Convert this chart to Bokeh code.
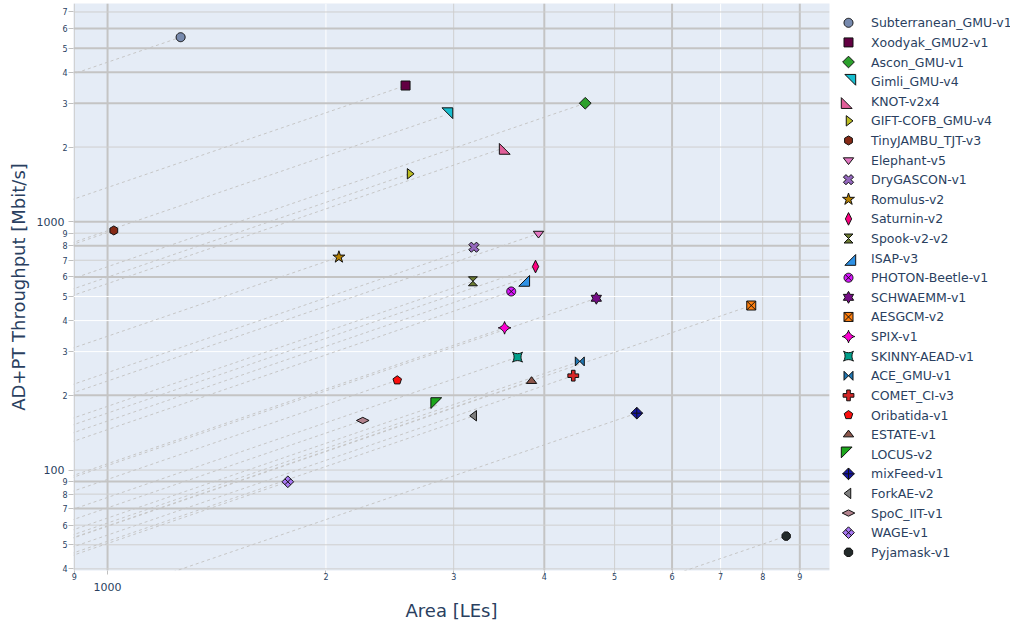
import math
from bokeh.plotting import figure
from bokeh.layouts import row
from bokeh.models import LogAxis, FixedTicker, CustomJSTickFormatter, Span, Range1d
from bokeh.core.properties import value
from bokeh.embed import file_html
from bokeh.resources import INLINE

# ---------------- data ----------------
names = ["Subterranean_GMU-v1", "Xoodyak_GMU2-v1", "Ascon_GMU-v1", "Gimli_GMU-v4", "KNOT-v2x4",
         "GIFT-COFB_GMU-v4", "TinyJAMBU_TJT-v3", "Elephant-v5", "DryGASCON-v1", "Romulus-v2",
         "Saturnin-v2", "Spook-v2-v2", "ISAP-v3", "PHOTON-Beetle-v1", "SCHWAEMM-v1", "AESGCM-v2",
         "SPIX-v1", "SKINNY-AEAD-v1", "ACE_GMU-v1", "COMET_CI-v3", "Oribatida-v1", "ESTATE-v1",
         "LOCUS-v2", "mixFeed-v1", "ForkAE-v2", "SpoC_IIT-v1", "WAGE-v1", "Pyjamask-v1"]
area = [1261, 2575, 4555, 2924, 3548, 2608, 1020, 3927, 3199, 2084,
        3890, 3189, 3731, 3601, 4718, 7715, 3526, 3674, 4477, 4385,
        2508, 3841, 2855, 5365, 3202, 2248, 1772, 8619]
throughput = [5540, 3539, 3003, 2692, 2000, 1561, 923, 897, 790, 721,
              660, 576, 588, 524, 492, 460, 374, 285, 274, 240,
              230, 228, 183, 169.5, 165.5, 158.4, 89.7, 54.2]
colors = ["#778AAE", "#620042", "#2CA02C", "#17BECF", "#E15F99", "#BCBD22", "#862A16", "#E377C2",
          "#9467BD", "#B68100", "#FC0080", "#6C7C32", "#2E91E5", "#DA16FF", "#750D86", "#FF7F0E",
          "#FB00D1", "#00A08B", "#1F77B4", "#D62728", "#FB0D0D", "#8C564B", "#1CA71C", "#1616A7",
          "#7F7F7F", "#B2828D", "#A777F1", "#222A2A"]
symbols = ["circle", "square", "diamond", "triangle-ne", "triangle-sw", "triangle-right", "hexagon",
           "triangle-down", "x", "star", "diamond-tall", "hourglass", "triangle-se", "circle-x",
           "hexagram", "square-x", "star-diamond", "star-square", "bowtie", "cross", "pentagon",
           "triangle-up", "triangle-nw", "diamond-cross", "triangle-left", "diamond-wide",
           "diamond-x", "octagon"]

x_ticks = [900, 1000, 2000, 3000, 4000, 5000, 6000, 7000, 8000, 9000]
x_decades = [1000]
y_ticks = [40, 50, 60, 70, 80, 90, 100, 200, 300, 400, 500, 600, 700, 800, 900,
           1000, 2000, 3000, 4000, 5000, 6000, 7000]
y_decades = [100, 1000]

# ---------------- styling / layout ----------------
X_MIN, X_MAX = 897.5, 9890
Y_MIN, Y_MAX = 39.4, 7573
FW, FH = 756, 567
PXX = FW / (math.log10(X_MAX) - math.log10(X_MIN))
PXY = FH / (math.log10(Y_MAX) - math.log10(Y_MIN))
R = 4.5
FONT_NAME = "DejaVu Sans"
FONT = value(FONT_NAME)
TXT = "#2a3f5f"

x_grid_style = {900: "light", 1000: "thick", 2000: "white", 3000: "light", 4000: "thick",
                5000: "light", 6000: "thick", 7000: "white", 8000: "light", 9000: "thick"}
y_grid_style = {40: "light", 50: "light", 60: "light", 70: "thick", 80: "light", 90: "thick",
                100: "light", 200: "thick", 300: "white", 400: "white", 500: "white",
                600: "thick", 700: "light", 800: "thick", 900: "light", 1000: "thick",
                2000: "light", 3000: "thick", 4000: "thick", 5000: "thick", 6000: "thick",
                7000: "light"}
grid_styles = {"thick": ("#c4c4c4", 2), "light": ("#cfcfcf", 1), "white": ("#ffffff", 1)}


def concave_side(a, b, rc, n=6):
    ax, ay = a
    bx, by = b
    mx, my = (ax + bx) / 2, (ay + by) / 2
    half = math.hypot(bx - ax, by - ay) / 2
    d = math.sqrt(rc * rc - half * half)
    ml = math.hypot(mx, my)
    ux, uy = mx / ml, my / ml
    cx, cy = mx + ux * d, my + uy * d
    t0 = math.atan2(ay - cy, ax - cx)
    t1 = math.atan2(by - cy, bx - cx)
    dt = (t1 - t0 + math.pi) % (2 * math.pi) - math.pi
    return [(cx + rc * math.cos(t0 + dt * k / n), cy + rc * math.sin(t0 + dt * k / n)) for k in range(n)]


def shape(name, r=R):
    """plotly-like symbol outline in screen px (y down) + inner lines"""
    s2 = math.sqrt(2)
    lines = []
    if name in ("circle", "circle-x"):
        pts = [(r * math.cos(2 * math.pi * k / 28), r * math.sin(2 * math.pi * k / 28)) for k in range(28)]
        if name == "circle-x":
            q = r / s2
            lines = [[(q, q), (-q, -q)], [(q, -q), (-q, q)]]
    elif name in ("square", "square-x"):
        pts = [(r, r), (-r, r), (-r, -r), (r, -r)]
        if name == "square-x":
            lines = [[(r, r), (-r, -r)], [(r, -r), (-r, r)]]
    elif name in ("diamond", "diamond-cross", "diamond-x"):
        d = 1.3 * r
        pts = [(d, 0), (0, d), (-d, 0), (0, -d)]
        if name == "diamond-cross":
            lines = [[(d, 0), (-d, 0)], [(0, d), (0, -d)]]
        elif name == "diamond-x":
            q = 0.65 * r
            lines = [[(-q, -q), (q, q)], [(-q, q), (q, -q)]]
    elif name == "diamond-tall":
        pts = [(0, 1.4 * r), (0.7 * r, 0), (0, -1.4 * r), (-0.7 * r, 0)]
    elif name == "diamond-wide":
        pts = [(0, 0.7 * r), (1.4 * r, 0), (0, -0.7 * r), (-1.4 * r, 0)]
    elif name.startswith("triangle-") and name.split("-")[1] in ("up", "down", "left", "right"):
        rt, h = 2 * r / math.sqrt(3), r / 2
        pts = {"up": [(-rt, h), (rt, h), (0, -r)],
               "down": [(-rt, -h), (rt, -h), (0, r)],
               "left": [(h, -rt), (h, rt), (-r, 0)],
               "right": [(-h, -rt), (-h, rt), (r, 0)]}[name.split("-")[1]]
    elif name.startswith("triangle-"):
        r1, r2 = 1.6 * r, 0.8 * r
        pts = {"ne": [(-r2, -r1), (r1, -r1), (r1, r2)],
               "se": [(r1, -r2), (r1, r1), (-r2, r1)],
               "sw": [(r2, r1), (-r1, r1), (-r1, -r2)],
               "nw": [(-r1, r2), (-r1, -r1), (r2, -r1)]}[name.split("-")[1]]
    elif name == "hexagon":
        y0, y1 = r / 2, r * math.sqrt(3) / 2
        pts = [(y1, -y0), (y1, y0), (0, r), (-y1, y0), (-y1, -y0), (0, -r)]
    elif name == "octagon":
        a, b = 0.924 * r, 0.383 * r
        pts = [(-b, -a), (b, -a), (a, -b), (a, b), (b, a), (-b, a), (-a, b), (-a, -b)]
    elif name == "pentagon":
        x1, x2, y0, y1, y2 = 0.951 * r, 0.588 * r, -r, -0.309 * r, 0.809 * r
        pts = [(x1, y1), (x2, y2), (-x2, y2), (-x1, y1), (0, y0)]
    elif name == "star":
        rs = 1.4 * r
        x1, x2, x3, x4 = rs * 0.225, rs * 0.951, rs * 0.363, rs * 0.588
        y0, y1, y3, y4, y5 = -rs, rs * -0.309, rs * 0.118, rs * 0.809, rs * 0.382
        pts = [(x1, y1), (x2, y1), (x3, y3), (x4, y4), (0, y5), (-x4, y4), (-x3, y3),
               (-x2, y1), (-x1, y1), (0, y0)]
    elif name == "hexagram":
        y, x1, x2 = 0.66 * r, 0.38 * r, 0.76 * r
        pts = [(-x2, 0), (-x2 - x1, -y), (-x1, -y), (0, -2 * y), (x1, -y), (x1 + x2, -y),
               (x2, 0), (x1 + x2, y), (x1, y), (0, 2 * y), (-x1, y), (-x1 - x2, y)]
    elif name == "x":
        q = r * 0.8 / s2
        pts = [(0, q), (q, 2 * q), (2 * q, q), (q, 0), (2 * q, -q), (q, -2 * q), (0, -q),
               (-q, -2 * q), (-2 * q, -q), (-q, 0), (-2 * q, q), (-q, 2 * q)]
    elif name == "cross":
        a, b = 0.4 * r, 1.2 * r
        pts = [(b, a), (a, a), (a, b), (-a, b), (-a, a), (-b, a), (-b, -a), (-a, -a),
               (-a, -b), (a, -b), (a, -a), (b, -a)]
    elif name == "hourglass":
        pts = [(r, r), (-r, r), (r, -r), (-r, -r)]
    elif name == "bowtie":
        pts = [(r, r), (r, -r), (-r, r), (-r, -r)]
    elif name == "star-square":
        rp = 1.1 * r
        c = [(-rp, rp), (-rp, -rp), (rp, -rp), (rp, rp)]
        pts = []
        for k in range(4):
            pts += concave_side(c[k], c[(k + 1) % 4], 2 * r)
    elif name == "star-diamond":
        rp = 1.4 * r
        c = [(-rp, 0), (0, rp), (rp, 0), (0, -rp)]
        pts = []
        for k in range(4):
            pts += concave_side(c[k], c[(k + 1) % 4], 1.9 * r)
    else:
        pts = [(r, r), (-r, r), (-r, -r), (r, -r)]
    return pts, lines


# ---------------- main plot ----------------
p = figure(frame_width=FW, frame_height=FH, x_axis_type="log", y_axis_type="log",
           x_range=Range1d(X_MIN, X_MAX), y_range=Range1d(Y_MIN, Y_MAX),
           toolbar_location=None, output_backend="svg",
           min_border_left=73, min_border_right=6, min_border_top=3, min_border_bottom=40,
           background_fill_color="#E5ECF6", border_fill_color="white", outline_line_color=None)
p.xgrid.grid_line_color = None
p.ygrid.grid_line_color = None

for v in x_ticks:
    c, w = grid_styles[x_grid_style[v]]
    p.add_layout(Span(location=v, dimension="height", line_color=c, line_width=w, level="underlay"))
for v in y_ticks:
    c, w = grid_styles[y_grid_style[v]]
    p.add_layout(Span(location=v, dimension="width", line_color=c, line_width=w, level="underlay"))

digit_fmt = CustomJSTickFormatter(code="""
const e = Math.floor(Math.log10(tick) + 1e-6);
const d = Math.round(tick / Math.pow(10, e));
return d === 1 ? "" : String(d);""")
decade_fmt = CustomJSTickFormatter(code="return String(Math.round(tick));")


def style_axis(ax, size, tick_out, standoff):
    ax.axis_line_color = None
    ax.minor_tick_line_color = None
    ax.major_tick_in = 0
    ax.major_tick_out = tick_out
    ax.major_tick_line_color = "#c0c0c0" if tick_out else None
    ax.major_label_text_font = FONT_NAME
    ax.major_label_text_font_size = size
    ax.major_label_text_color = TXT
    ax.major_label_standoff = standoff
    ax.axis_label_text_font = FONT_NAME
    ax.axis_label_text_font_size = "18px"
    ax.axis_label_text_font_style = "normal"
    ax.axis_label_text_color = TXT


xa = p.xaxis[0]
xa.ticker = FixedTicker(ticks=x_ticks, minor_ticks=[])
xa.formatter = digit_fmt
style_axis(xa, "8px", 4, -2)
xa2 = LogAxis(ticker=FixedTicker(ticks=x_decades, minor_ticks=[]), formatter=decade_fmt,
              axis_label="Area [LEs]")
style_axis(xa2, "11px", 0, 0)
xa2.axis_label_standoff = 6
p.add_layout(xa2, "below")

ya = p.yaxis[0]
ya.ticker = FixedTicker(ticks=y_ticks, minor_ticks=[])
ya.formatter = digit_fmt
style_axis(ya, "8px", 5, 1)
ya2 = LogAxis(ticker=FixedTicker(ticks=y_decades, minor_ticks=[]), formatter=decade_fmt,
              axis_label="AD+PT Throughput [Mbit/s]")
style_axis(ya2, "11px", 0, -5)
ya2.axis_label_standoff = 5
p.add_layout(ya2, "left")

# dashed lines of constant throughput/area through each point
x_lo = 500.0
p.multi_line(xs=[[x_lo, a] for a in area], ys=[[t * x_lo / a, t] for a, t in zip(area, throughput)],
             line_color="#c6c6c6", line_width=1, line_dash="3 3")

# markers
pxs, pys, lxs, lys = [], [], [], []
for a, t, s in zip(area, throughput, symbols):
    pts, lines = shape(s)
    pxs.append([a * 10 ** (dx / PXX) for dx, dy in pts])
    pys.append([t * 10 ** (-dy / PXY) for dx, dy in pts])
    for ln in lines:
        lxs.append([a * 10 ** (dx / PXX) for dx, dy in ln])
        lys.append([t * 10 ** (-dy / PXY) for dx, dy in ln])
p.patches(pxs, pys, fill_color=colors, line_color="#111111", line_width=1)
p.multi_line(lxs, lys, line_color="#111111", line_width=1)

# ---------------- legend panel ----------------
LW, LH = 175, 575
lg = figure(frame_width=LW, frame_height=LH, x_range=Range1d(0, LW), y_range=Range1d(LH, 0),
            x_axis_location=None, y_axis_location=None, toolbar_location=None, title=None,
            output_backend="svg", min_border=0, outline_line_color=None,
            background_fill_color="white", border_fill_color="white")
lg.xgrid.visible = False
lg.ygrid.visible = False
row_y = [19.3 + 19.61 * i for i in range(len(names))]
sym_x = 13
gxs, gys, glx, gly = [], [], [], []
for yc, s in zip(row_y, symbols):
    pts, lines = shape(s)
    gxs.append([sym_x + dx for dx, dy in pts])
    gys.append([yc + dy for dx, dy in pts])
    for ln in lines:
        glx.append([sym_x + dx for dx, dy in ln])
        gly.append([yc + dy for dx, dy in ln])
lg.patches(gxs, gys, fill_color=colors, line_color="#111111", line_width=1)
lg.multi_line(glx, gly, line_color="#111111", line_width=1)
lg.text(x=[35.5] * len(names), y=row_y, text=names, text_baseline="middle", text_align="left",
        text_font=FONT, text_font_size="12.5px", text_color=TXT)

layout = row(p, lg)
open("out.html", "w").write(file_html(layout, INLINE))
